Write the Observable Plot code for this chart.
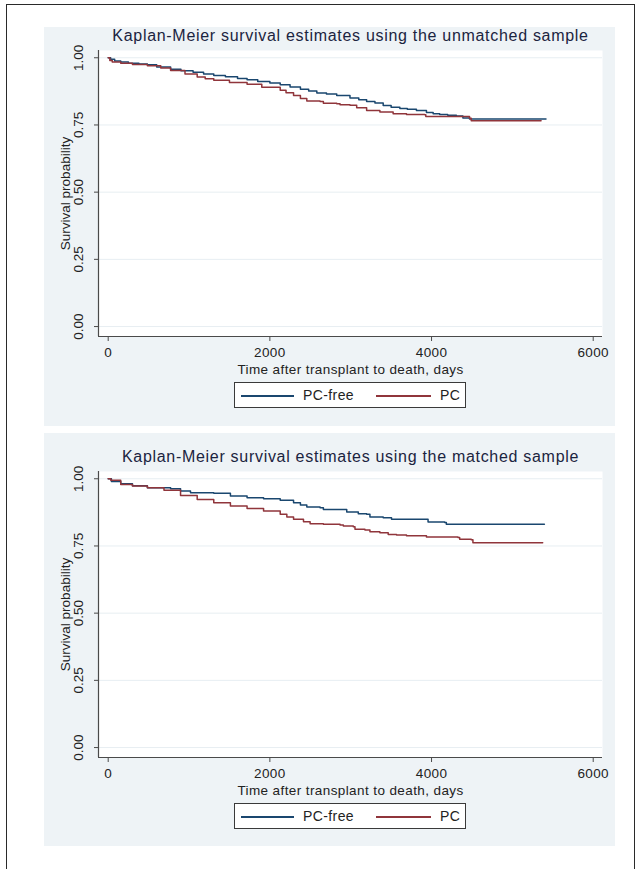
<!DOCTYPE html>
<html>
<head>
<meta charset="utf-8">
<script src="https://cdn.jsdelivr.net/npm/d3@7"></script>
<script src="https://cdn.jsdelivr.net/npm/@observablehq/plot@0.6"></script>
<style>
  html, body { margin: 0; padding: 0; background: #ffffff; }
  #root { position: relative; width: 644px; height: 869px; overflow: hidden; font-family: "Liberation Sans", Arial, sans-serif; }
  #frame { position: absolute; left: 6px; top: 4px; width: 629px; height: 900px; border: 1.5px solid #2a2a2a; box-sizing: border-box; }
  .panel { position: absolute; left: 44px; width: 571px; background: #eef3f6; }
  .panel svg { position: absolute; left: 0; top: 0; }
  .legend { position: absolute; left: 190px; width: 232px; height: 26px; border: 1px solid #3a3a3a; background: #fff; box-sizing: border-box; }
  .legend .ln { position: absolute; height: 1.5px; top: 12px; }
  .legend .lb { position: absolute; top: 4px; font-size: 14px; line-height: 16px; color: #222; letter-spacing: 0.4px; }
</style>
</head>
<body>
<div id="root"><div id="frame"></div></div>
<script>
// ---- data ----
const seriesNames = ["PC-free", "PC"];
const seriesColors = ["#1a476f", "#90353b"];
const xTicks = [0, 2000, 4000, 6000];
const yTicks = [0, 0.25, 0.5, 0.75, 1];
const panelTitles = [
  "Kaplan-Meier survival estimates using the unmatched sample",
  "Kaplan-Meier survival estimates using the matched sample"
];
const xLabel = "Time after transplant to death, days";
const yLabel = "Survival probability";

// Unmatched sample
const unmatchedFreeTime = [0, 30, 80, 155, 250, 380, 485, 600, 772, 900, 1050, 1180, 1306, 1450, 1600, 1718, 1850, 2000, 2128, 2250, 2378, 2480, 2581, 2700, 2827, 2991, 3100, 3197, 3300, 3402, 3500, 3608, 3700, 3813, 3937, 4020, 4101, 4200, 4307, 4388, 4470, 5416];
const unmatchedFreeSurv = [1.000, 0.994, 0.988, 0.984, 0.980, 0.977, 0.974, 0.966, 0.957, 0.952, 0.946, 0.940, 0.934, 0.929, 0.923, 0.918, 0.912, 0.906, 0.900, 0.891, 0.883, 0.876, 0.869, 0.865, 0.860, 0.850, 0.844, 0.837, 0.832, 0.822, 0.816, 0.811, 0.808, 0.804, 0.796, 0.792, 0.789, 0.786, 0.783, 0.776, 0.772, 0.772];
const unmatchedPCTime = [0, 20, 50, 155, 300, 485, 650, 772, 950, 1101, 1200, 1306, 1500, 1718, 1900, 2128, 2200, 2293, 2378, 2457, 2621, 2662, 2827, 2868, 2991, 3074, 3197, 3361, 3525, 3690, 3916, 3929, 4307, 4470, 4491, 5355];
const unmatchedPCSurv = [1.000, 0.990, 0.984, 0.980, 0.975, 0.970, 0.962, 0.953, 0.940, 0.928, 0.922, 0.916, 0.908, 0.901, 0.890, 0.879, 0.870, 0.860, 0.848, 0.839, 0.837, 0.831, 0.829, 0.825, 0.823, 0.814, 0.804, 0.798, 0.792, 0.789, 0.788, 0.781, 0.781, 0.775, 0.766, 0.766];

// Matched sample
const matchedFreeTime = [0, 40, 155, 300, 485, 772, 895, 1018, 1306, 1512, 1718, 1922, 2128, 2293, 2378, 2457, 2621, 2662, 2951, 3094, 3197, 3238, 3402, 3505, 3957, 4163, 4183, 5396];
const matchedFreeSurv = [1.000, 0.990, 0.981, 0.974, 0.967, 0.963, 0.954, 0.948, 0.946, 0.936, 0.929, 0.926, 0.920, 0.911, 0.902, 0.895, 0.892, 0.886, 0.876, 0.870, 0.868, 0.858, 0.855, 0.849, 0.839, 0.837, 0.831, 0.831];
const matchedPCTime = [0, 32, 155, 300, 485, 690, 895, 1101, 1306, 1512, 1718, 1922, 2128, 2210, 2293, 2416, 2498, 2662, 2868, 2909, 3032, 3053, 3176, 3238, 3361, 3464, 3567, 3690, 3937, 4327, 4348, 4491, 4512, 5375];
const matchedPCSurv = [1.000, 0.994, 0.979, 0.973, 0.967, 0.957, 0.938, 0.923, 0.911, 0.899, 0.889, 0.880, 0.868, 0.858, 0.849, 0.840, 0.833, 0.831, 0.828, 0.824, 0.821, 0.812, 0.809, 0.803, 0.799, 0.793, 0.791, 0.788, 0.783, 0.781, 0.775, 0.773, 0.762, 0.762];

function rows(freeT, freeS, pcT, pcS) {
  return [
    ...freeT.map((t, i) => ({t, s: freeS[i], group: seriesNames[0]})),
    ...pcT.map((t, i) => ({t, s: pcS[i], group: seriesNames[1]}))
  ];
}

const panels = [
  {top: 27, height: 399, mTop: 23, mBottom: 90, title: panelTitles[0],
   data: rows(unmatchedFreeTime, unmatchedFreeSurv, unmatchedPCTime, unmatchedPCSurv)},
  {top: 433, height: 413, mTop: 38, mBottom: 89, title: panelTitles[1],
   data: rows(matchedFreeTime, matchedFreeSurv, matchedPCTime, matchedPCSurv)}
];

const axisColor = "#4a4a4a";
const gridColor = "#e7eef2";
const textColor = "#222";
const titleColor = "#1b2440";
const xDom = [-120, 6115];
const yDom = [-0.037, 1.027];
const root = document.getElementById("root");

for (const p of panels) {
  const div = document.createElement("div");
  div.className = "panel";
  div.style.top = p.top + "px";
  div.style.height = p.height + "px";
  root.appendChild(div);

  const chart = Plot.plot({
    width: 571,
    height: p.height,
    marginLeft: 54,
    marginRight: 13,
    marginTop: p.mTop,
    marginBottom: p.mBottom,
    style: {background: "transparent", fontFamily: "'Liberation Sans', Arial, sans-serif", overflow: "visible", color: textColor},
    x: {domain: xDom, axis: null},
    y: {domain: yDom, axis: null},
    color: {domain: seriesNames, range: seriesColors},
    marks: [
      Plot.frame({fill: "white", stroke: "none"}),
      Plot.ruleY(yTicks, {stroke: gridColor, strokeWidth: 1}),
      Plot.line(p.data, {x: "t", y: "s", stroke: "group", z: "group", curve: "step-after", strokeWidth: 1.5}),
      Plot.ruleX([xDom[0]], {stroke: axisColor, strokeWidth: 1.2}),
      Plot.ruleY([yDom[0]], {stroke: axisColor, strokeWidth: 1.2}),
      Plot.axisX({ticks: xTicks, tickSize: 5, tickPadding: 5.5, fontSize: 13.5, tickFormat: d => String(d), label: null, stroke: axisColor, fill: textColor}),
      Plot.axisY({ticks: yTicks, tickSize: 4, tickFormat: () => "", label: null, stroke: axisColor}),
      Plot.text(yTicks, {y: d => d, frameAnchor: "left", text: d => d.toFixed(2), rotate: -90, dx: -20, textAnchor: "middle", lineAnchor: "middle", fontSize: 13.5, fill: textColor}),
      Plot.text([p.title], {frameAnchor: "top", dy: -10, lineAnchor: "bottom", fontSize: 16, fill: titleColor}),
      Plot.text([xLabel], {frameAnchor: "bottom", dy: 37, lineAnchor: "bottom", fontSize: 13.5, fill: textColor}),
      Plot.text([yLabel], {frameAnchor: "left", dx: -33, rotate: -90, textAnchor: "middle", lineAnchor: "middle", fontSize: 13.5, fill: textColor})
    ]
  });
  d3.select(chart).selectAll("text").filter(function() { return this.textContent === p.title; })
    .style("letter-spacing", "0.7px");
  d3.select(chart).selectAll("text").filter(function() { return this.textContent === xLabel; })
    .style("letter-spacing", "0.4px");
  d3.select(chart).selectAll("text").filter(function() { return /^\d+$/.test(this.textContent); })
    .style("letter-spacing", "0.4px");
  div.appendChild(chart);

  // legend
  const lg = document.createElement("div");
  lg.className = "legend";
  lg.style.top = (p.height - p.mBottom + 46.3) + "px";
  const items = [
    {x1: 6, x2: 59, label: seriesNames[0], lx: 68, color: seriesColors[0]},
    {x1: 141, x2: 196, label: seriesNames[1], lx: 205, color: seriesColors[1]}
  ];
  for (const it of items) {
    const ln = document.createElement("div");
    ln.className = "ln";
    ln.style.left = it.x1 + "px";
    ln.style.width = (it.x2 - it.x1) + "px";
    ln.style.background = it.color;
    lg.appendChild(ln);
    const lb = document.createElement("div");
    lb.className = "lb";
    lb.style.left = it.lx + "px";
    lb.textContent = it.label;
    lg.appendChild(lb);
  }
  div.appendChild(lg);
}
</script>
</body>
</html>
